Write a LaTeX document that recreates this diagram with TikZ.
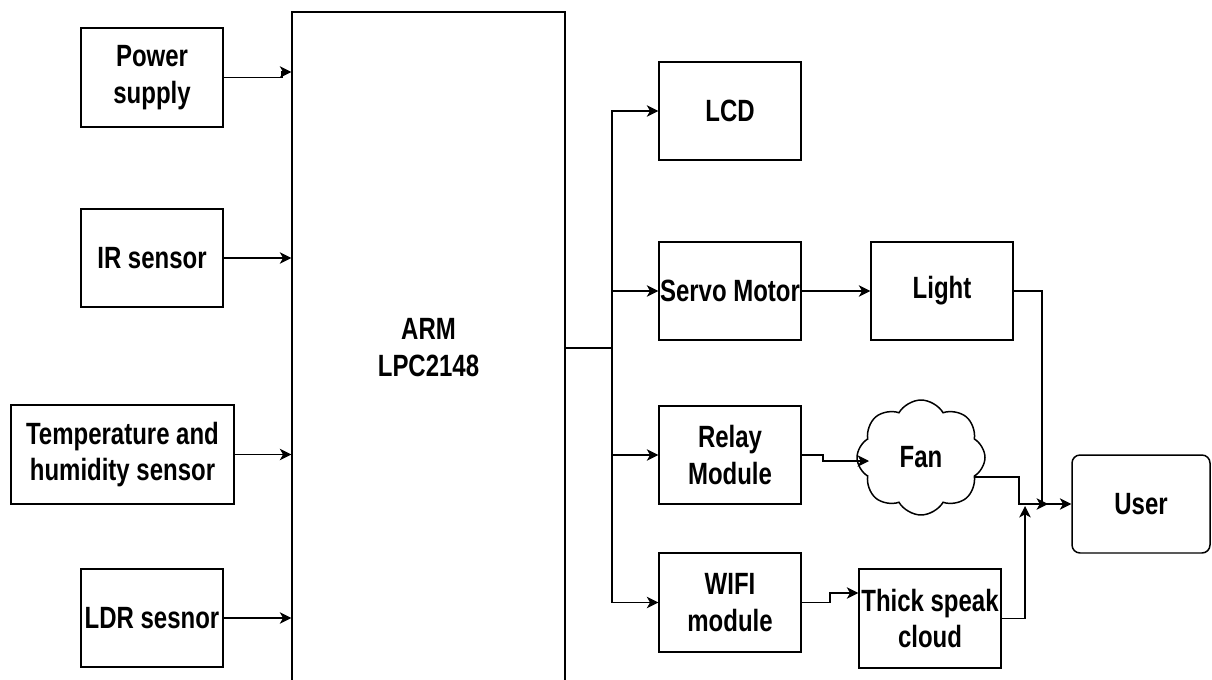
\documentclass[tikz,border=0pt]{standalone}
\usepackage{fontspec}
\setmainfont{Liberation Sans}[FakeStretch=0.78]
\usetikzlibrary{arrows.meta,shapes.symbols}
\begin{document}
\begin{tikzpicture}[x=0.02cm,y=-0.02cm,
  box/.style={draw, line width=0.85pt, inner sep=0pt, align=center,
    font=\bfseries\fontsize{17.5}{21}\selectfont, text=black},
  std/.style={box, minimum width=2.84cm, minimum height=1.96cm},
  conn/.style={line width=0.85pt},
  arr/.style={conn, -{Stealth[length=6.5pt,width=6.5pt,inset=1.8pt]}}]
\useasboundingbox (0,0) rectangle (1212,679);
\clip (0,0) rectangle (1212,679);
\fill[white] (0,0) rectangle (1212,679);
% inputs
\node[std, minimum height=1.98cm] (power) at (152,77.5) {Power\\supply};
\node[std] (ir) at (152,258) {IR sensor};
\node[box, minimum width=4.46cm, minimum height=1.98cm] (temp) at (122.5,454.5) {Temperature and\\humidity sensor};
\node[std] (ldr) at (152,618) {LDR sesnor};
% controller
\node[box, minimum width=5.46cm, minimum height=13.44cm] (arm) at (428.5,348) {ARM\\LPC2148};
% outputs
\node[std] (lcd) at (730,111) {LCD};
\node[std] (servo) at (730,291) {Servo Motor};
\node[std] (relay) at (730,455) {Relay\\Module};
\node[std, minimum height=1.98cm] (wifi) at (730,602.5) {WIFI\\module};
\node[std] (light) at (942,291) {Light};
\node[box, cloud, cloud puffs=8, cloud puff arc=120, aspect=1.1,
      minimum width=2.56cm, minimum height=2.3cm] (fan) at (921,457.5) {Fan};
\node[std, minimum height=1.98cm] (thick) at (930,618.5) {Thick speak\\cloud};
\node[box, rounded corners=0.16cm, minimum width=2.76cm, minimum height=1.96cm] (user) at (1141,504) {User};
% connectors: inputs
\draw[arr] (power.east) -- (282,77.5) -- (282,72) -- (arm.west |- 0,72);
\draw[arr] (ir.east) -- (ir.east -| arm.west);
\draw[arr] (temp.east) -- (temp.east -| arm.west);
\draw[arr] (ldr.east) -- (ldr.east -| arm.west);
% bus
\coordinate (bus) at (612,348);
\draw[conn] (arm.east |- bus) -- (bus);
\draw[arr] (bus) |- (lcd.west);
\draw[arr] (bus) |- (servo.west);
\draw[arr] (bus) |- (relay.west);
\draw[arr] (bus) |- (wifi.west);
% chain
\draw[arr] (servo.east) -- (light.west);
\coordinate (fanin) at (869,461);
\draw[arr] (relay.east) -- (823,455) -- (823,461) -- (fanin);
\draw[arr] (wifi.east) -- (830,602.5) -- (830,593) -- (thick.west |- 0,593);
% to user
\coordinate (lj) at (1048,504);
\coordinate (tj) at (1025,506);
\draw[arr] (light.east) -| (1042,504) -- (lj);
\draw[arr] (fan.-20) -| (1019,504) -- (user.west);
\draw[arr] (thick.east) -| (tj);
\end{tikzpicture}
\end{document}
